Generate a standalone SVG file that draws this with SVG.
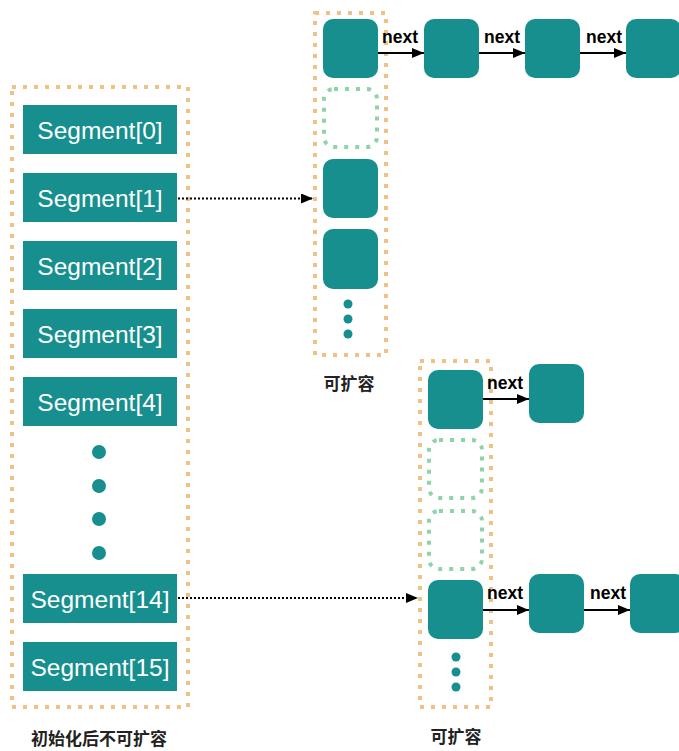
<svg xmlns="http://www.w3.org/2000/svg" width="679" height="751" viewBox="0 0 679 751">
<defs>
<marker id="ah" viewBox="0 0 12 10" refX="12" refY="5" markerWidth="12" markerHeight="10" markerUnits="userSpaceOnUse" orient="auto">
<path d="M0,0 L12,5 L0,10 z" fill="#000"/>
</marker>
<style>
.cont{fill:none;stroke:#efc283;stroke-width:4;stroke-dasharray:4 7}
.empty{fill:none;stroke:#8fd3a8;stroke-width:4;stroke-dasharray:4 7}
.node{fill:#168f8e}
.seg{fill:#168f8e}
.segt{fill:#fff;font-family:"Liberation Sans",Arial,sans-serif;font-size:24.5px;text-anchor:middle}
.nx{fill:#000;font-family:"Liberation Sans",Arial,sans-serif;font-size:17.5px;font-weight:bold}
.lbl{fill:#222;font-family:"Noto Sans CJK SC",sans-serif;font-size:17px;font-weight:bold;text-anchor:middle}
.dot{fill:#168f8e}
.arr{stroke:#000;stroke-width:2;fill:none;marker-end:url(#ah)}
.dash{stroke:#000;stroke-width:2;stroke-dasharray:2 2;fill:none;marker-end:url(#ah)}
</style>
</defs>
<rect width="679" height="751" fill="#fff"/>

<g id="segments">
<rect class="cont" x="12" y="87" width="176" height="620"/>
<g id="seg0"><rect class="seg" x="23" y="105" width="154" height="49"/><text class="segt" x="100" y="138.5">Segment[0]</text></g>
<g id="seg1"><rect class="seg" x="23" y="173" width="154" height="49"/><text class="segt" x="100" y="206.5">Segment[1]</text></g>
<g id="seg2"><rect class="seg" x="23" y="241" width="154" height="49"/><text class="segt" x="100" y="274.5">Segment[2]</text></g>
<g id="seg3"><rect class="seg" x="23" y="309" width="154" height="49"/><text class="segt" x="100" y="342.5">Segment[3]</text></g>
<g id="seg4"><rect class="seg" x="23" y="377" width="154" height="49"/><text class="segt" x="100" y="410.5">Segment[4]</text></g>
<g id="segdots"><circle class="dot" cx="99" cy="452" r="7"/><circle class="dot" cx="99" cy="486" r="7"/><circle class="dot" cx="99" cy="519" r="7"/><circle class="dot" cx="99" cy="553" r="7"/></g>
<g id="seg14"><rect class="seg" x="23" y="574" width="154" height="49"/><text class="segt" x="100" y="607.5">Segment[14]</text></g>
<g id="seg15"><rect class="seg" x="23" y="642" width="154" height="49"/><text class="segt" x="100" y="675.5">Segment[15]</text></g>
<text class="lbl" x="99" y="745">初始化后不可扩容</text>
</g>

<g id="table1">
<rect class="cont" x="315" y="13" width="71" height="342"/>
<g id="t1n0"><rect class="node" x="323" y="19" width="55" height="59" rx="10"/></g>
<g id="t1e1"><rect class="empty" x="324" y="89" width="53" height="58" rx="10"/></g>
<g id="t1n2"><rect class="node" x="323" y="159" width="55" height="59" rx="10"/></g>
<g id="t1n3"><rect class="node" x="323" y="229" width="55" height="60" rx="10"/></g>
<circle class="dot" cx="348" cy="304" r="4.5"/><circle class="dot" cx="348" cy="319" r="4.5"/><circle class="dot" cx="348" cy="334" r="4.5"/>
<text class="lbl" x="349" y="390">可扩容</text>
</g>
<g id="c1a"><rect class="node" x="424" y="19" width="55" height="59" rx="10"/></g>
<g id="c1b"><rect class="node" x="525" y="19" width="55" height="59" rx="10"/></g>
<g id="c1c"><rect class="node" x="626" y="19" width="55" height="59" rx="10"/></g>

<g id="table2">
<rect class="cont" x="420" y="361" width="71" height="346"/>
<g id="t2n0"><rect class="node" x="428" y="370" width="55" height="59" rx="10"/></g>
<g id="t2e1"><rect class="empty" x="429" y="440" width="53" height="58" rx="10"/></g>
<g id="t2e2"><rect class="empty" x="429" y="511" width="53" height="58" rx="10"/></g>
<g id="t2n3"><rect class="node" x="428" y="580" width="55" height="59" rx="10"/></g>
<circle class="dot" cx="456" cy="657" r="4.5"/><circle class="dot" cx="456" cy="672" r="4.5"/><circle class="dot" cx="456" cy="687" r="4.5"/>
<text class="lbl" x="456" y="743">可扩容</text>
</g>
<g id="c2a"><rect class="node" x="529" y="364" width="55" height="59" rx="10"/></g>
<g id="c3a"><rect class="node" x="529" y="574" width="55" height="59" rx="10"/></g>
<g id="c3b"><rect class="node" x="630" y="574" width="55" height="59" rx="10"/></g>

<g id="connectors">
<line class="dash" x1="178" y1="198.5" x2="313" y2="198.5"/>
<line class="dash" x1="178" y1="598" x2="418" y2="598"/>
<line class="arr" x1="378" y1="53" x2="424" y2="53"/>
<line class="arr" x1="479" y1="53" x2="525" y2="53"/>
<line class="arr" x1="580" y1="53" x2="626" y2="53"/>
<line class="arr" x1="483" y1="399" x2="529" y2="399"/>
<line class="arr" x1="483" y1="610" x2="529" y2="610"/>
<line class="arr" x1="584" y1="610" x2="630" y2="610"/>
<text class="nx" x="382" y="43">next</text>
<text class="nx" x="484" y="43">next</text>
<text class="nx" x="586" y="43">next</text>
<text class="nx" x="487" y="389">next</text>
<text class="nx" x="487" y="599">next</text>
<text class="nx" x="590" y="599">next</text>
</g>
</svg>
